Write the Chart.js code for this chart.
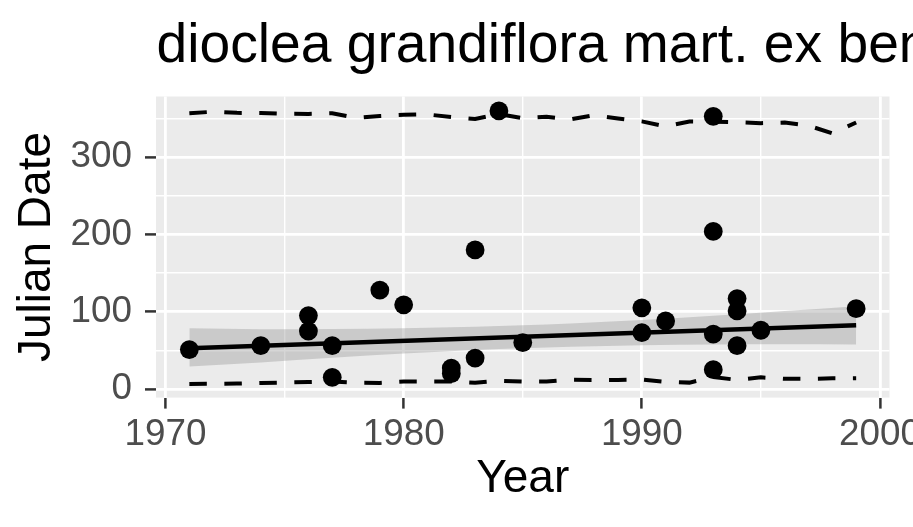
<!DOCTYPE html>
<html><head><meta charset="utf-8">
<script src="https://cdn.jsdelivr.net/npm/chart.js@4.4.1/dist/chart.umd.min.js"></script>
<style>html,body{margin:0;padding:0;background:#fff;}canvas{display:block;}</style>
</head><body>
<canvas id="c" width="913" height="527"></canvas>
<script>
// ---- text ----
const chartTitle = 'dioclea grandiflora mart. ex benth.';
const xAxisTitle = 'Year';
const yAxisTitle = 'Julian Date';

// ---- ticks ----
const xMajorTicks = [1970, 1980, 1990, 2000];
const xMinorTicks = [1975, 1985, 1995];
const yMajorTicks = [0, 100, 200, 300];
const yMinorTicks = [50, 150, 250, 350];

// ---- observations ----
const pointYears = [1971, 1974, 1976, 1976, 1977, 1977, 1979, 1980, 1982, 1982, 1983, 1983, 1984, 1985,
                    1990, 1990, 1991, 1993, 1993, 1993, 1993, 1994, 1994, 1994, 1995, 1999];
const pointDays  = [51, 56, 95, 75, 56, 15, 128, 109, 27, 20, 180, 40, 360, 60,
                    105, 73, 88, 353, 204, 71, 25, 117, 101, 56, 76, 104];

// ---- linear fit and its confidence band ----
const fitYears  = [1971, 1999];
const fitValues = [52.7, 82.5];
const bandYears = [1971, 1974, 1977, 1980, 1983, 1985, 1987, 1990, 1993, 1996, 1999];
const bandUpper = [78.5, 77.4, 77.7, 78.7, 80.6, 82.4, 84.8, 89.3, 94.7, 100.8, 107.0];
const bandLower = [29.0, 34.4, 40.5, 45.9, 50.4, 52.8, 54.6, 56.5, 57.5, 57.8, 57.5];

// ---- dashed upper / lower curves ----
const curveYears = [1971,1972,1973,1974,1975,1976,1977,1978,1979,1980,1981,1982,1983,1984,1985,
                    1986,1987,1988,1989,1990,1991,1992,1993,1994,1995,1996,1997,1998,1999];
const upperCurve = [357,359,357.5,357.3,356.3,356.2,357,351,353.5,355,355.5,352,349.7,356,350.5,
                    352.5,349,354.5,350.3,346.5,340,346.3,346,345.4,344.2,345,341,331,345];
const lowerCurve = [6.5,6.7,7,7.8,8.3,9,9.5,8,7.8,9.5,9.5,9.5,8,10.7,9.5,
                    9.6,11.9,11.7,11.7,12.2,9.2,8.2,15.5,11.7,15,13.2,13,13.8,13.8];

const pts = (xs, ys) => xs.map((x, i) => ({x: x, y: ys[i]}));
const FONT = "'Liberation Sans', Arial, Helvetica, sans-serif";

const xAll = xMajorTicks.concat(xMinorTicks).sort((a, b) => a - b);
const yAll = yMajorTicks.concat(yMinorTicks).sort((a, b) => a - b);
const isXMajor = v => xMajorTicks.includes(v);
const isYMajor = v => yMajorTicks.includes(v);

const panelPlugin = {
  id: 'panel',
  beforeDraw(chart) {
    const {ctx, chartArea: a} = chart;
    ctx.save();
    ctx.fillStyle = '#EBEBEB';
    ctx.fillRect(a.left, a.top, a.right - a.left, a.bottom - a.top);
    ctx.restore();
  },
  afterDraw(chart) {
    const {ctx, chartArea: a} = chart;
    ctx.save();
    ctx.fillStyle = '#000000';
    ctx.font = '55.2px ' + FONT;
    ctx.textAlign = 'left';
    ctx.textBaseline = 'alphabetic';
    ctx.fillText(chartTitle, a.left + 0.5, 62);
    ctx.restore();
  }
};

new Chart(document.getElementById('c'), {
  type: 'scatter',
  data: {
    datasets: [
      { label: 'points', data: pts(pointYears, pointDays), order: 0,
        backgroundColor: '#000000', borderWidth: 0, pointRadius: 9.4, pointHoverRadius: 9.4, showLine: false },
      { label: 'fit', data: pts(fitYears, fitValues), order: 1, showLine: true,
        borderColor: '#000000', borderWidth: 4.4, pointRadius: 0, fill: false },
      { label: 'upper', data: pts(curveYears, upperCurve), order: 2, showLine: true,
        borderColor: '#000000', borderWidth: 4.0, borderDash: [17.5, 17.5], pointRadius: 0, fill: false },
      { label: 'lower', data: pts(curveYears, lowerCurve), order: 2, showLine: true,
        borderColor: '#000000', borderWidth: 4.0, borderDash: [17.5, 17.5], pointRadius: 0, fill: false },
      { label: 'bandUpper', data: pts(bandYears, bandUpper), order: 5, showLine: true,
        borderWidth: 0, borderColor: 'rgba(0,0,0,0)', pointRadius: 0, cubicInterpolationMode: 'monotone',
        fill: '+1', backgroundColor: 'rgba(153,153,153,0.4)' },
      { label: 'bandLower', data: pts(bandYears, bandLower), order: 6, showLine: true,
        borderWidth: 0, borderColor: 'rgba(0,0,0,0)', pointRadius: 0, cubicInterpolationMode: 'monotone',
        fill: false }
    ]
  },
  options: {
    responsive: false,
    animation: false,
    devicePixelRatio: 1,
    layout: { autoPadding: false, padding: { top: 96.5, right: 23.5, bottom: 0, left: 0 } },
    plugins: { legend: { display: false }, tooltip: { enabled: false }, title: { display: false } },
    scales: {
      x: {
        type: 'linear', position: 'bottom', min: 1969.6, max: 2000.4,
        afterBuildTicks: s => { s.ticks = xAll.map(v => ({value: v})); },
        afterFit: s => { s.height = 129.4; s.paddingLeft = 0; s.paddingRight = 0; },
        border: { display: false },
        grid: {
          color: '#FFFFFF', drawTicks: true, tickLength: 11, tickWidth: 2.5,
          lineWidth: c => (c.tick && isXMajor(c.tick.value)) ? 2.8 : 1.4,
          tickColor: c => (c.tick && isXMajor(c.tick.value)) ? '#333333' : 'rgba(0,0,0,0)'
        },
        ticks: {
          autoSkip: false, maxRotation: 0, minRotation: 0, padding: 4, color: '#4D4D4D',
          font: { family: FONT, size: 36.8 },
          callback: v => isXMajor(v) ? String(v) : ''
        },
        title: { display: true, text: xAxisTitle, color: '#000000',
                 font: { family: FONT, size: 46 }, padding: { top: 0, bottom: 20.3 } }
      },
      y: {
        type: 'linear', position: 'left', min: -11.2, max: 378.7,
        afterBuildTicks: s => { s.ticks = yAll.map(v => ({value: v})); },
        afterFit: s => { s.width = 156; s.paddingTop = 0; s.paddingBottom = 0; },
        border: { display: false },
        grid: {
          color: '#FFFFFF', drawTicks: true, tickLength: 11, tickWidth: 2.5,
          lineWidth: c => (c.tick && isYMajor(c.tick.value)) ? 2.8 : 1.4,
          tickColor: c => (c.tick && isYMajor(c.tick.value)) ? '#333333' : 'rgba(0,0,0,0)'
        },
        ticks: {
          autoSkip: false, padding: 13, color: '#4D4D4D',
          font: { family: FONT, size: 36.8 },
          callback: v => isYMajor(v) ? String(v) : ''
        },
        title: { display: true, text: yAxisTitle, color: '#000000',
                 font: { family: FONT, size: 46 }, padding: { top: 9.8, bottom: 0 } }
      }
    }
  },
  plugins: [panelPlugin]
});
</script>
</body></html>
